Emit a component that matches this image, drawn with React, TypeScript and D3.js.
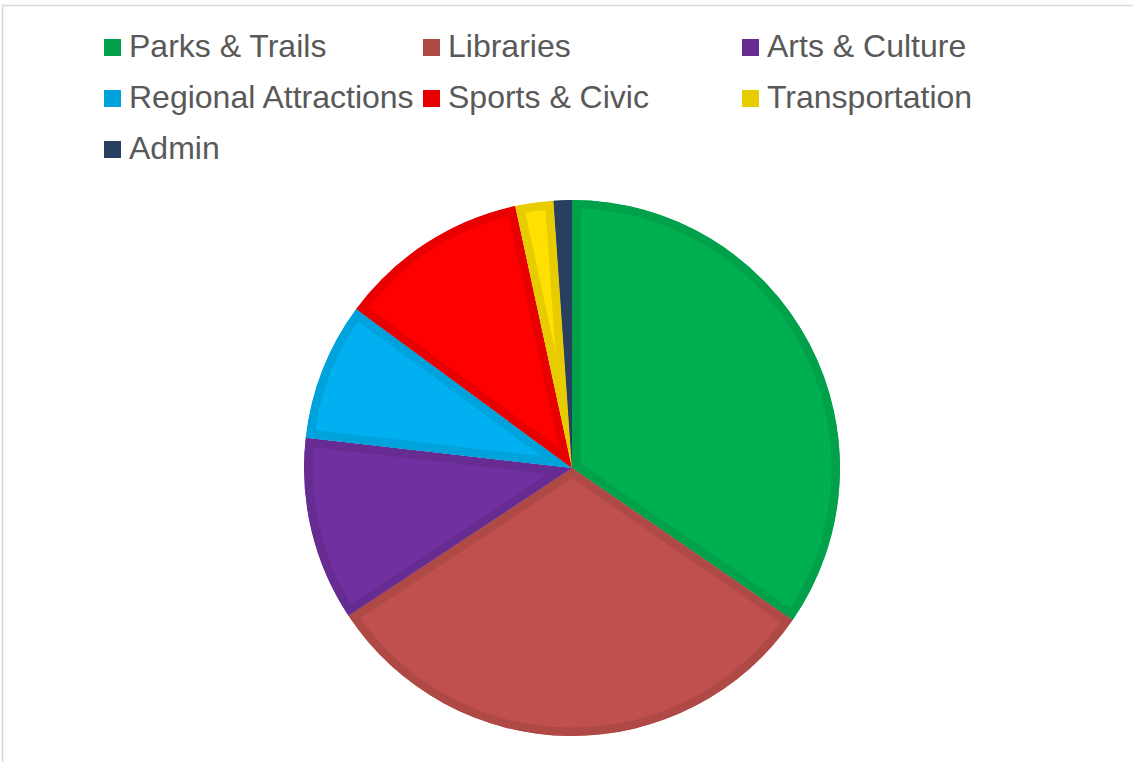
import React from 'react';
import * as d3 from 'd3';

const categories = ['Parks & Trails', 'Libraries', 'Arts & Culture', 'Regional Attractions', 'Sports & Civic', 'Transportation', 'Admin'];
const shares = [34.6, 31.1, 11.1, 8.3, 11.5, 2.3, 1.1];
const fills = ['#00B050', '#C0504D', '#7030A0', '#00B0F0', '#FF0000', '#FFE000', '#2A4466'];
const borders = ['#00A14A', '#AE4946', '#662C92', '#00A2DB', '#E80000', '#E6CC00', '#283F60'];

const width = 1133;
const height = 762;

const App: React.FC = () => {
  const cx = 572;
  const cy = 468;
  const radius = 268;

  const pie = d3.pie<number>().sort(null).value(d => d).startAngle(0).endAngle(2 * Math.PI);
  const arcs = pie(shares);
  const arc = d3.arc<d3.PieArcDatum<number>>().innerRadius(0).outerRadius(radius);

  const colX = d3.scaleOrdinal<number, number>().domain([0, 1, 2]).range([104, 423, 742]);
  const rowY = d3.scaleLinear().domain([0, 1]).range([57, 108]);

  return (
    <svg width={width} height={height} style={{ position: 'absolute', left: 0, top: 0 }}>
      <rect x={0} y={0} width={width} height={height} fill="#fff" />
      <rect x={2.5} y={5.5} width={width + 10} height={height + 10} fill="none" stroke="#D9D9D9" strokeWidth={1.5} />
      <defs>
        {arcs.map((a, i) => (
          <clipPath id={`clip-${i}`} key={i}>
            <path d={arc(a) || ''} transform={`translate(${cx},${cy})`} />
          </clipPath>
        ))}
      </defs>
      <g>
        {arcs.map((a, i) => (
          <g key={i} clipPath={`url(#clip-${i})`}>
            <path
              d={arc(a) || ''}
              transform={`translate(${cx},${cy})`}
              fill={fills[i]}
              stroke={borders[i]}
              strokeWidth={17}
              strokeLinejoin="miter"
            />
          </g>
        ))}
      </g>
      <g fontFamily="'Liberation Sans', Arial, sans-serif" fontSize={32} fill="#595959">
        {categories.map((c, i) => {
          const x = colX(i % 3);
          const y = rowY(Math.floor(i / 3));
          return (
            <g key={c}>
              <rect x={x} y={y - 18} width={17} height={17} fill={borders[i]} />
              <text x={x + 25} y={y}>{c}</text>
            </g>
          );
        })}
      </g>
    </svg>
  );
};

export default App;
